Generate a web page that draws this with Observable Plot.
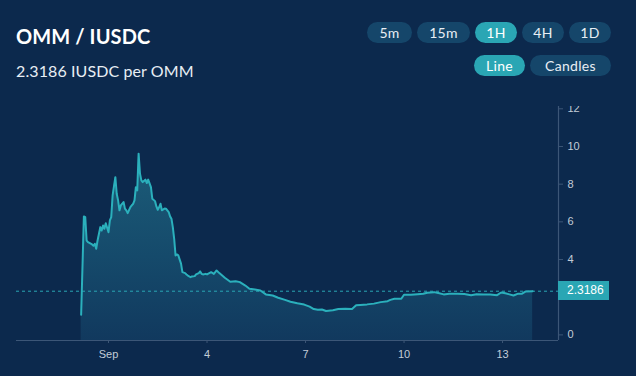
<!DOCTYPE html>
<html>
<head>
<meta charset="utf-8">
<script src="https://cdn.jsdelivr.net/npm/d3@7"></script>
<script src="https://cdn.jsdelivr.net/npm/@observablehq/plot@0.6"></script>
<style>
  html, body { margin: 0; padding: 0; background: #0c294d; }
  #wrap { position: relative; width: 636px; height: 376px; overflow: hidden; background: #0c294d; font-family: Lato, "Open Sans", sans-serif; }
  #title { position: absolute; left: 16px; top: 24px; font-size: 20px; font-weight: 700; color: #ffffff; white-space: nowrap; letter-spacing: 0.1px; }
  #subtitle { position: absolute; left: 16px; top: 61px; font-size: 16px; color: #e8eef4; white-space: nowrap; letter-spacing: 0.1px; }
  .pill { position: absolute; height: 21px; line-height: 21px; border-radius: 11px; background: #15466a; color: #e8eef4; font-size: 14px; text-align: center; letter-spacing: 0.3px; }
  .pill.active { background: #2aa6b4; color: #ffffff; }
  #chart { position: absolute; left: 0; top: 106px; width: 636px; height: 270px; overflow: hidden; }
  #priceTag { position: absolute; left: 558px; width: 51px; height: 19px; background: #2aa6b4; color: #ffffff; font: 12px "Liberation Sans", Arial, sans-serif; line-height: 19px; padding-left: 9px; box-sizing: border-box; }
</style>
</head>
<body>
<div id="wrap">
  <div id="title"></div>
  <div id="subtitle"></div>
  <div id="chart"></div>
</div>
<script>
// ---- data (hours since 2023-08-31 00:00 UTC, price in IUSDC) ----
const pairBase = "OMM";
const pairQuote = "IUSDC";
const lastPrice = 2.3186;
const intervals = ["5m", "15m", "1H", "4H", "1D"];
const activeInterval = "1H";
const chartTypes = ["Line", "Candles"];
const activeChartType = "Line";

const hours = [4, 6, 7, 8, 9, 11, 12, 13, 14, 15, 16, 18, 19, 20, 21, 22, 24, 25, 26, 27,
  29, 30, 31, 32, 33, 35, 36, 37, 38, 40, 41, 42, 43, 44, 45, 46, 47, 48, 49, 51,
  52, 53, 55, 56, 58, 59, 60, 61, 62, 63, 65, 66, 68, 69, 70, 71, 72, 73, 74, 75,
  77, 78, 80, 81, 82, 84, 85, 87, 88, 90, 91, 92, 93, 95, 96, 99, 101, 103, 105, 109,
  113, 117, 120, 124, 127, 131, 135, 139, 144, 148, 153, 157, 162, 167, 171, 174, 177, 180, 183, 188,
  192, 197, 202, 205, 208, 213, 218, 223, 228, 230, 233, 238, 240, 245, 250, 254, 257, 262, 265, 269,
  273, 279, 284, 289, 293, 298, 303, 308, 311, 314, 317, 320, 323, 326, 329, 334];
const prices = [1.07, 6.29, 6.25, 5.01, 4.92, 4.84, 4.80, 4.73, 4.84, 4.57, 5.01, 5.72, 5.54, 5.81, 5.63, 5.93, 5.45, 6.08, 6.25, 7.40,
  8.37, 7.49, 7.14, 6.61, 6.87, 7.05, 6.70, 6.61, 6.46, 6.78, 6.87, 6.96, 7.14, 7.84, 7.67, 9.62, 8.56, 8.20, 8.11, 8.24,
  8.06, 8.24, 7.84, 7.23, 7.10, 6.82, 6.64, 6.78, 6.96, 6.61, 6.71, 6.70, 6.52, 6.29, 6.17, 5.72, 5.10, 4.22, 4.27, 4.22,
  3.78, 3.33, 3.28, 3.21, 3.15, 3.06, 3.10, 3.12, 3.21, 3.28, 3.37, 3.24, 3.21, 3.24, 3.21, 3.33, 3.24, 3.42, 3.28, 3.03,
  2.82, 2.85, 2.80, 2.62, 2.45, 2.41, 2.36, 2.15, 2.09, 1.97, 1.86, 1.76, 1.68, 1.61, 1.50, 1.37, 1.33, 1.35, 1.27, 1.31,
  1.37, 1.39, 1.37, 1.57, 1.59, 1.62, 1.66, 1.74, 1.79, 1.86, 1.92, 1.92, 2.13, 2.13, 2.16, 2.18, 2.24, 2.27, 2.22, 2.15,
  2.18, 2.18, 2.17, 2.11, 2.16, 2.15, 2.15, 2.11, 2.25, 2.21, 2.15, 2.09, 2.18, 2.18, 2.31, 2.3186];

const xTickDates = ["2023-09-01", "2023-09-04", "2023-09-07", "2023-09-10", "2023-09-13"];
const xTickLabels = ["Sep", "4", "7", "10", "13"];
const yTicks = [0, 4, 6, 8, 10, 12];   // the "2" tick sits under the price tag
const xDomainHours = [-43.25, 352.9];
const yDomain = [-0.297, 12.122];

// ---- build ----
const base = Date.UTC(2023, 7, 31);
const toDate = h => new Date(base + h * 3600e3);
const data = hours.map((h, i) => ({date: toDate(h), price: prices[i]}));
const xTicks = xTickDates.map(s => new Date(s + "T00:00:00Z"));

document.getElementById("title").textContent = `${pairBase} / ${pairQuote}`;
document.getElementById("subtitle").textContent = `${lastPrice} ${pairQuote} per ${pairBase}`;

const wrap = document.getElementById("wrap");
const pillPos = {"5m": [367, 45], "15m": [417, 53], "1H": [475, 42], "4H": [522, 42], "1D": [569, 42]};
intervals.forEach(k => {
  const d = document.createElement("div");
  d.className = "pill" + (k === activeInterval ? " active" : "");
  d.textContent = k;
  d.style.left = pillPos[k][0] + "px"; d.style.width = pillPos[k][1] + "px"; d.style.top = "22px";
  wrap.appendChild(d);
});
const typePos = {"Line": [474, 51], "Candles": [530, 81]};
chartTypes.forEach(k => {
  const d = document.createElement("div");
  d.className = "pill" + (k === activeChartType ? " active" : "");
  d.textContent = k;
  d.style.left = typePos[k][0] + "px"; d.style.width = typePos[k][1] + "px"; d.style.top = "55px";
  wrap.appendChild(d);
});

const gradient = () => {
  const ns = "http://www.w3.org/2000/svg";
  const defs = document.createElementNS(ns, "defs");
  const lg = document.createElementNS(ns, "linearGradient");
  lg.setAttribute("id", "areaGrad");
  lg.setAttribute("x1", "0"); lg.setAttribute("y1", "0");
  lg.setAttribute("x2", "0"); lg.setAttribute("y2", "1");
  [["0%", "#1c5d79"], ["55%", "#154a6b"], ["100%", "#11395e"]].forEach(([o, c]) => {
    const s = document.createElementNS(ns, "stop");
    s.setAttribute("offset", o); s.setAttribute("stop-color", c);
    lg.appendChild(s);
  });
  defs.appendChild(lg);
  return defs;
};

const axisColor = "#3c5677";
const labelColor = "#c3ccd7";

const plot = Plot.plot({
  width: 636,
  height: 270,
  marginLeft: 16,
  marginRight: 78,
  marginTop: 0,
  marginBottom: 36,
  style: {background: "transparent", fontFamily: "'Liberation Sans', Arial, sans-serif", fontSize: "11px", overflow: "visible"},
  x: {type: "utc", domain: xDomainHours.map(toDate)},
  y: {domain: yDomain},
  marks: [
    gradient,
    Plot.areaY(data, {x: "date", y1: yDomain[0], y2: "price", fill: "url(#areaGrad)"}),
    Plot.ruleY([lastPrice], {stroke: "#2aa6b4", strokeWidth: 1, strokeDasharray: "3,3"}),
    Plot.lineY(data, {x: "date", y: "price", stroke: "#2bb0bc", strokeWidth: 2, strokeLinejoin: "round"}),
    Plot.ruleY([yDomain[0]], {stroke: axisColor, strokeWidth: 1.2}),
    Plot.ruleX([xDomainHours[1]].map(toDate), {stroke: axisColor, strokeWidth: 1.2}),
    Plot.axisX({ticks: xTicks, tickFormat: (d) => xTickLabels[xTicks.findIndex(t => +t === +d)], tickSize: 3, tickPadding: 7, stroke: axisColor, fill: labelColor, label: null}),
    Plot.axisY({anchor: "right", ticks: yTicks, tickFormat: d => String(d), tickSize: 4, tickPadding: 5, stroke: axisColor, fill: labelColor, label: null})
  ]
});
document.getElementById("chart").appendChild(plot);

// price tag positioned via the y scale
const yScale = plot.scale("y");
const tag = document.createElement("div");
tag.id = "priceTag";
tag.textContent = String(lastPrice);
tag.style.top = (106 + yScale.apply(lastPrice) - 9.5) + "px";
wrap.appendChild(tag);
</script>
</body>
</html>
